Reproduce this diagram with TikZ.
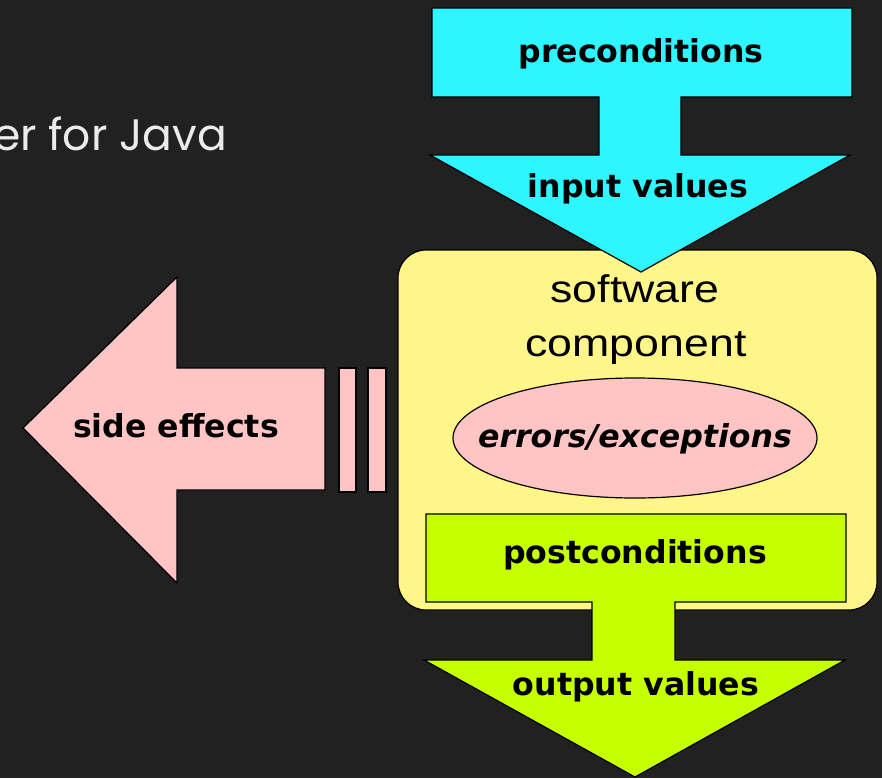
\documentclass[tikz,border=0pt]{standalone}
\usepackage{fontspec}
\setmainfont{DejaVu Sans}
\newfontfamily\compfont[FakeStretch=1.16]{Liberation Sans}
\newfontfamily\slidefont{Poppins}
\usetikzlibrary{shapes.geometric}
\definecolor{slidebg}{RGB}{33,33,33}
\definecolor{precyan}{RGB}{46,245,255}
\definecolor{compyellow}{RGB}{255,246,138}
\definecolor{effectpink}{RGB}{255,196,196}
\definecolor{postgreen}{RGB}{198,255,0}
\tikzstyle{blockarrow} = [draw=black, line width=1.2pt, line join=miter]
\tikzstyle{arrowtext} = [font=\bfseries\fontsize{31.6}{36}\selectfont, inner sep=0pt, anchor=base]
\tikzstyle{comptext} = [font=\compfont\fontsize{38.5}{44}\selectfont, inner sep=0pt, anchor=base]

\begin{document}
\begin{tikzpicture}
[x=1pt, y=-1pt]
\useasboundingbox (0,0) rectangle (882,778);
\fill [slidebg] (0,0) rectangle (882,778);
\clip (0,0) rectangle (882,778);

% leftover slide title
\node (title) [font=\slidefont\fontsize{44}{50}\selectfont, text=white!92!black, inner sep=0pt, anchor=base east] at (227,150) {er for Java};

% component box
\node (comp) [rectangle, rounded corners=28pt, draw=black, line width=1.2pt, fill=compyellow, minimum width=479pt, minimum height=360pt] at (637.5,430) {};

% input arrow
\draw [blockarrow, fill=precyan] (432,8) -- (852,8) -- (852,97) -- (681,97) -- (681,155) -- (850,155) -- (641,272) -- (430,155) -- (599,155) -- (599,97) -- (432,97) -- cycle;

% output arrow
\draw [blockarrow, fill=postgreen] (426,514) -- (846,514) -- (846,602) -- (675,602) -- (675,660) -- (845,660) -- (635,777) -- (424,660) -- (592,660) -- (592,602) -- (426,602) -- cycle;

% side effects arrow
\draw [blockarrow, fill=effectpink] (23,428) -- (177,277) -- (177,368) -- (325,368) -- (325,490) -- (177,490) -- (177,583) -- cycle;
\draw [blockarrow, fill=effectpink] (339,368) rectangle (356,492);
\draw [blockarrow, fill=effectpink] (368,368) rectangle (386,492);

\node (err) [ellipse, draw=black, line width=1.2pt, fill=effectpink, minimum width=364pt, minimum height=120pt] at (635,438) {};

% labels
\node (pre) [arrowtext] at (641,63) {preconditions};
\node (in) [arrowtext] at (638,197) {input values};
\node (sw) [comptext] at (635,302) {software};
\node (cmp) [comptext] at (636,356) {component};
\node (errtext) [arrowtext, font=\bfseries\itshape\fontsize{31.6}{36}\selectfont] at (635,447) {errors/exceptions};
\node (post) [arrowtext] at (635,563) {postconditions};
\node (out) [arrowtext] at (636,695) {output values};
\node (side) [arrowtext] at (176,437) {side effects};

\end{tikzpicture}
\end{document}
